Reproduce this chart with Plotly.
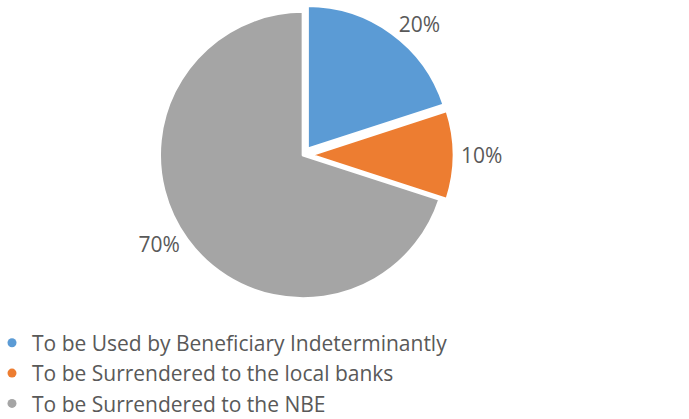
import plotly.graph_objects as go

labels = ["To be Used by Beneficiary Indeterminantly",
          "To be Surrendered to the local banks",
          "To be Surrendered to the NBE"]
values = [20, 10, 70]
colors = ["#5B9BD5", "#ED7D31", "#A5A5A5"]
pulls = [0.05, 0.05, 0.0]

fig = go.Figure()
fig.add_trace(go.Pie(
    labels=labels, values=values, sort=False, direction="clockwise", rotation=0,
    marker=dict(colors=colors, line=dict(color="white", width=3)),
    pull=pulls, textinfo="percent", textposition="outside",
    texttemplate="%{percent:.0%}",
    textfont=dict(family="Open Sans", size=21, color="#595959"),
    showlegend=False, domain=dict(x=[0.05, 0.83], y=[0.27, 0.99]),
    hoverinfo="skip"))
for lab, col in zip(labels, colors):
    fig.add_trace(go.Scatter(x=[None], y=[None], mode="markers", name=lab,
                             marker=dict(color=col, size=9, symbol="circle")))

fig.update_layout(
    width=689, height=419, margin=dict(l=0, r=0, t=0, b=0, autoexpand=False),
    paper_bgcolor="white", plot_bgcolor="white",
    xaxis=dict(visible=False), yaxis=dict(visible=False),
    legend=dict(xref="container", yref="container", x=0.0, y=0.23,
                xanchor="left", yanchor="top",
                font=dict(family="Open Sans", size=21, color="#595959"),
                tracegroupgap=0, itemwidth=30, indentation=-8,
                bgcolor="rgba(0,0,0,0)"),
)
fig.write_html("out.html")
